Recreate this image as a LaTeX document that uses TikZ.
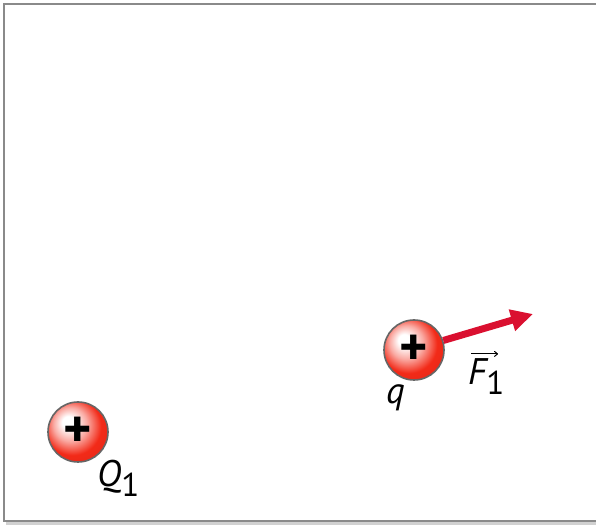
\documentclass[tikz,border=0pt]{standalone}
\usepackage{fontspec}
\setmainfont{PT Sans}
\usetikzlibrary{arrows.meta}
\definecolor{framegray}{HTML}{8A8A8A}
\definecolor{forcered}{HTML}{DA1030}
\definecolor{ballred}{HTML}{F22A18}
\pgfdeclareradialshading{chargeball}{\pgfpoint{-9bp}{9bp}}{%
  color(0bp)=(white); color(5bp)=(white); color(14bp)=(ballred!40!white); color(24bp)=(ballred); color(50bp)=(ballred!88!black)}
\tikzset{
  charge/.style={circle, minimum size=60pt, inner sep=0pt, draw=black!60, line width=1.6pt,
    shading=chargeball, font=\fontsize{54}{54}\selectfont\bfseries, text=black},
  lbl/.style={inner sep=0pt, font=\fontsize{37}{37}\selectfont\itshape},
  frameline/.style={draw=framegray, line width=2pt},
  force/.style={draw=forcered, line width=7pt, -{Triangle[length=22pt,width=21pt]}}
}
\begin{document}
\begin{tikzpicture}[x=1pt,y=1pt]
\useasboundingbox (0,0) rectangle (596,526);
\fill[white] (0,0) rectangle (596,526);
% frame with slight shadow
\draw[black!18, line width=3pt] (6,2) -- (596,2);
\draw[frameline] (596,4.5) -- (3.5,4.5) -- (3.5,522) -- (596,522);
% charges
\node[charge] (Q) at (78,94) {+};
\node[charge] (q) at (414,176) {+};
% force arrow
\coordinate (tip) at (533,212);
\draw[force] (q.18) -- (tip);
% labels
\node[lbl, anchor=base west] (Qlbl) at (97,39) {Q\raisebox{-10pt}{\fontsize{33}{33}\selectfont\upshape 1}};
\node[lbl, anchor=base west] (qlbl) at (386,122) {q};
\node[lbl, anchor=base west] (Flbl) at (468,141) {F\raisebox{-10pt}{\fontsize{33}{33}\selectfont\upshape 1}};
\draw[black, line width=1pt, -{To[length=4pt,width=6pt]}] ([xshift=3pt,yshift=5pt]Flbl.north west) -- ++(27,0);
\end{tikzpicture}
\end{document}
